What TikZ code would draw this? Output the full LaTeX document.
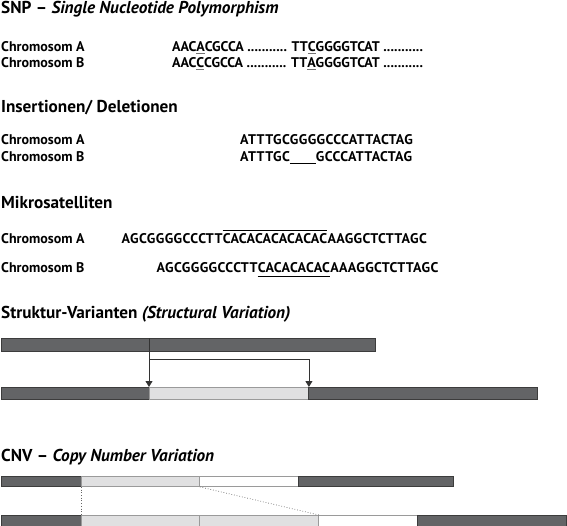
\documentclass[tikz,border=0pt]{standalone}
\usepackage{fontspec}
\setmainfont{PT Sans}
\usetikzlibrary{arrows.meta}
\definecolor{dk}{HTML}{636466}
\definecolor{dkb}{HTML}{3C3C3C}
\definecolor{lt}{HTML}{E0E0E1}
\definecolor{ltb}{HTML}{9A9A9A}
\begin{document}
\begin{tikzpicture}[x=1pt,y=-1pt,
  title/.style={anchor=base west, inner sep=0pt, font=\fontsize{17.2}{20}\selectfont\bfseries},
  lab/.style={anchor=base west, inner sep=0pt, font=\fontsize{14}{16}\selectfont\bfseries},
  mseq/.style={lab, font=\fontsize{14}{16}\selectfont\bfseries\addfontfeature{LetterSpace=3}},
  bar/.style={inner sep=0pt, anchor=north west, line width=0.9pt},
  dbar/.style={bar, draw=dkb, fill=dk},
  lbar/.style={bar, draw=ltb, fill=lt},
  wbar/.style={bar, draw=ltb, fill=white},
  arr/.style={draw=black!80, line width=0.8pt, -{Triangle[width=7pt,length=6pt]}},
  dotl/.style={draw=black!60, line width=0.7pt, dotted},
  seqline/.style={line width=1.1pt, draw=black}]
\useasboundingbox (0,0) rectangle (567,526);
\newcommand{\ul}[1]{{\color{black!55}\underline{\color{black}#1}}}

% SNP
\node[title] (t1) at (1,14) {SNP -- \textit{Single Nucleotide Polymorphism}};
\node[lab] (l1a) at (1,51.5) {Chromosom A};
\node[lab] (l1b) at (1,68) {Chromosom B};
\node[lab] (s1a) at (172,51.5) {AAC\ul{A}CGCCA ........... TT\ul{C}GGGGTCAT ...........};
\node[lab] (s1b) at (172,68) {AAC\ul{C}CGCCA ........... TT\ul{A}GGGGTCAT ...........};

% Indel
\node[title] (t2) at (1,113) {Insertionen/ Deletionen};
\node[lab] (l2a) at (1,145) {Chromosom A};
\node[lab] (l2b) at (1,162) {Chromosom B};
\node[mseq] (s2a) at (240,145) {ATTTGCGGGGCCCATTACTAG};
\node[mseq] (s2b) at (240,162) {ATTTGC\rule[-1.6pt]{26pt}{0.9pt}GCCCATTACTAG};

% Mikrosatelliten
\node[title] (t3) at (1,209) {Mikrosatelliten};
\node[lab] (l3a) at (1,243.5) {Chromosom A};
\node[lab] (l3b) at (1,273) {Chromosom B};
\node[mseq] (ma1) at (121.5,243.5) {AGCGGGGCCCTT};
\node[mseq] (ma2) at (ma1.base east) {CACACACACACAC};
\node[mseq] (ma3) at (ma2.base east) {AAGGCTCTTAGC};
\node[mseq] (mb1) at (156.5,273) {AGCGGGGCCCTT};
\node[mseq] (mb2) at (mb1.base east) {CACACACAC};
\node[mseq] (mb3) at (mb2.base east) {AAAGGCTCTTAGC};
\draw[seqline] ([yshift=2.5pt]ma2.north west) -- ([yshift=2.5pt]ma2.north east);
\draw[seqline] ([yshift=-3.8pt]mb2.base west) -- ([yshift=-3.8pt]mb2.base east);

% Struktur-Varianten
\node[title] (t4) at (1,319) {Struktur-Varianten \textit{(Structural Variation)}};
\node[dbar, minimum width=374pt, minimum height=13pt] (svt) at (1,338) {};
\node[dbar, minimum width=148pt, minimum height=12pt] (svb1) at (1,387) {};
\node[lbar, minimum width=159pt, minimum height=12pt] (svb2) at (149,387) {};
\node[dbar, minimum width=229pt, minimum height=12pt] (svb3) at (308,387) {};
\coordinate (svs) at (149,338);
\coordinate (svk) at (149,359);
\draw[arr] (svs) -- (svb2.north west);
\draw[arr] (svk) -| (svb2.north east);

% CNV
\node[title] (t5) at (1,461) {CNV -- \textit{Copy Number Variation}};
\node[dbar, minimum width=80pt, minimum height=10pt] (ct1) at (1,476) {};
\node[lbar, minimum width=118pt, minimum height=10pt] (ct2) at (81,476) {};
\node[wbar, minimum width=99pt, minimum height=10pt] (ct3) at (199,476) {};
\node[dbar, minimum width=155pt, minimum height=10pt] (ct4) at (298,476) {};
\node[dbar, minimum width=80pt, minimum height=10.5pt] (cb1) at (1,515) {};
\node[lbar, minimum width=118pt, minimum height=10.5pt] (cb2) at (81,515) {};
\node[lbar, minimum width=119pt, minimum height=10.5pt] (cb3) at (199,515) {};
\node[wbar, minimum width=99pt, minimum height=10.5pt] (cb4) at (318,515) {};
\node[dbar, minimum width=149pt, minimum height=10.5pt] (cb5) at (417,515) {};
\draw[dotl] (ct2.south west) -- (cb2.north west);
\draw[dotl] (ct2.south east) -- (cb3.north east);
\end{tikzpicture}
\end{document}
